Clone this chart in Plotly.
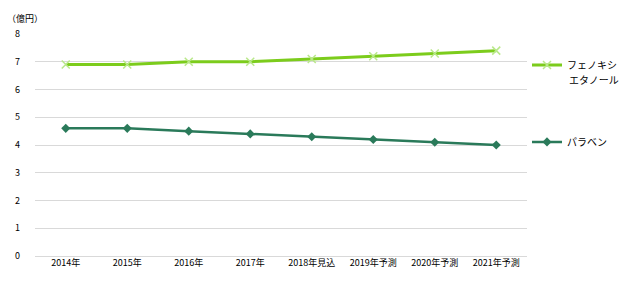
import plotly.graph_objects as go

categories = ["2014年", "2015年", "2016年", "2017年", "2018年見込", "2019年予測", "2020年予測", "2021年予測"]
phenoxy = [6.9, 6.9, 7.0, 7.0, 7.1, 7.2, 7.3, 7.4]
paraben = [4.6, 4.6, 4.5, 4.4, 4.3, 4.2, 4.1, 4.0]
yticks = [0, 1, 2, 3, 4, 5, 6, 7, 8]

FONT = "Noto Sans CJK JP"

fig = go.Figure()
fig.add_trace(go.Scatter(
    x=categories, y=phenoxy, mode="lines+markers", name="フェノキシ",
    line=dict(color="#7ccc1c", width=3),
    marker=dict(symbol="x-thin", size=8, line=dict(color="#b9e88a", width=1.5)),
    legend="legend", showlegend=True,
))
fig.add_trace(go.Scatter(
    x=categories, y=paraben, mode="lines+markers", name="パラベン",
    line=dict(color="#2a7a5a", width=2.5),
    marker=dict(symbol="diamond", size=7, color="#2a7a5a"),
    legend="legend2", showlegend=True,
))

fig.update_layout(
    width=641, height=286,
    margin=dict(l=35, r=114, t=34, b=30),
    paper_bgcolor="white", plot_bgcolor="white",
    showlegend=True,
    font=dict(family=FONT, size=9, color="#000000"),
    legend=dict(x=1.0, y=0.86, xanchor="left", yanchor="middle",
                font=dict(family=FONT, size=10), bgcolor="rgba(0,0,0,0)",
                itemwidth=30),
    legend2=dict(x=1.0, y=0.514, xanchor="left", yanchor="middle",
                 font=dict(family=FONT, size=10), bgcolor="rgba(0,0,0,0)",
                 itemwidth=30),
    xaxis=dict(type="category", showgrid=False, showline=False, ticks="",
               tickfont=dict(family=FONT, size=9), range=[-0.5, 7.5]),
    yaxis=dict(range=[0, 8], tickvals=yticks, showgrid=True, gridcolor="#d9d9d9",
               gridwidth=1, zeroline=True, zerolinecolor="#d9d9d9", zerolinewidth=1,
               showline=False, ticks="",
               tickfont=dict(family=FONT, size=9), ticklabelstandoff=14),
    annotations=[
        dict(text="（億円）", xref="paper", yref="paper", x=-0.06, y=1.03,
             xanchor="left", yanchor="bottom", showarrow=False,
             font=dict(family=FONT, size=9)),
        dict(text="エタノール", xref="paper", yref="paper", x=1.0815, y=0.793,
             xanchor="left", yanchor="middle", showarrow=False,
             font=dict(family=FONT, size=10)),
    ],
)

fig.write_html("out.html")
